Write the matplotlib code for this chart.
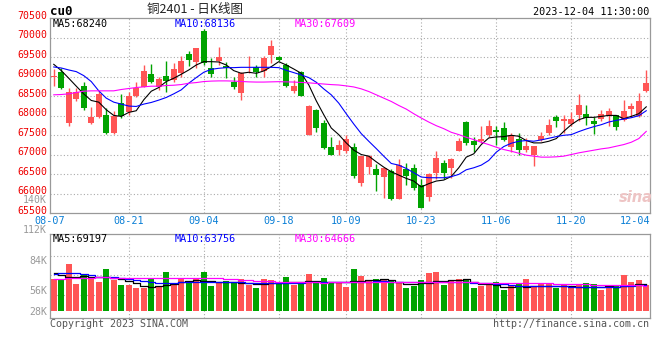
import numpy as np
import pandas as pd
import matplotlib
matplotlib.use("Agg")
import matplotlib.pyplot as plt
from matplotlib.transforms import offset_copy

# trading days on the chart (SHFE closed 09-29 .. 10-06)
holidays = pd.to_datetime(["2023-09-29", "2023-10-02", "2023-10-03",
                           "2023-10-04", "2023-10-05", "2023-10-06"])
dates = pd.bdate_range("2023-08-07", "2023-12-04")
dates = dates[~dates.isin(holidays)]
date_labels = list(dates.strftime("%m-%d"))
tick_dates = ["08-07", "08-21", "09-04", "09-18", "10-09", "10-23", "11-06", "11-20", "12-04"]

opens = [68990, 69133, 67807, 68419, 68776, 67807, 67960, 68028, 67552, 68325,
         68096, 68520, 68750, 69065, 68750, 69022, 68920, 69090, 69583, 69371,
         70170, 69235, 69413, 69286, 68878, 68597, 69120, 69243, 69150, 69558,
         69515, 69303, 68640, 69133, 67500, 68155, 67823, 67211, 67118, 67110,
         67211, 66284, 66685, 66625, 66430, 66582, 65860, 66625, 66667, 66216,
         65919, 66523, 66795, 66667, 67110, 67832, 67347, 67347, 67517, 67645,
         67687, 67194, 67415, 67135, 67007, 67390, 67560, 67960, 67857, 67798,
         68010, 68053, 67857, 67925, 67985, 68028, 67900, 68180, 68002, 68640]
closes = [69030, 68725, 68606, 68623, 68190, 67960, 68555, 67552, 68002, 67985,
          68512, 68708, 69150, 68878, 68946, 68903, 69200, 69405, 69430, 69745,
          69345, 69065, 69515, 69235, 68750, 69090, 69130, 69133, 69473, 69787,
          69430, 68776, 68776, 68495, 68240, 67688, 67177, 66990, 67262, 67415,
          66454, 66965, 66965, 66480, 66667, 65860, 66735, 66454, 66140, 65646,
          66497, 66922, 66540, 66905, 67347, 67305, 67262, 67415, 67747, 67585,
          67390, 67517, 67118, 67237, 67237, 67492, 67772, 67857, 67925, 67925,
          68283, 67943, 67798, 68053, 68112, 67705, 68112, 68240, 68385, 68852]
highs = [69200, 69218, 68708, 68725, 68878, 68215, 68640, 68198, 68112, 68563,
         68606, 68878, 69303, 69320, 69005, 69405, 69345, 69541, 69660, 69745,
         70220, 69490, 69762, 69388, 69005, 69133, 69540, 69303, 69541, 69940,
         69541, 69345, 68920, 69150, 68283, 68180, 67900, 67458, 67390, 67500,
         67305, 66965, 67007, 66752, 66667, 66625, 66905, 66795, 66770, 66370,
         66540, 67110, 66855, 66922, 67432, 67857, 67458, 67730, 67900, 67730,
         67840, 67560, 67560, 67432, 67237, 67585, 67925, 68028, 68028, 68087,
         68563, 68265, 67960, 68155, 68198, 68028, 68410, 68325, 68580, 69175]
lows = [68760, 68690, 67730, 68380, 68150, 67790, 67940, 67540, 67540, 67942,
        68010, 68470, 68750, 68835, 68665, 68606, 68878, 69005, 69286, 69218,
        69300, 69005, 69300, 68963, 68690, 68410, 69110, 69005, 69005, 69345,
        69400, 68750, 68580, 68495, 67500, 67585, 67160, 66990, 66990, 67050,
        66412, 66200, 66497, 66072, 65900, 65834, 65860, 66225, 66100, 65630,
        65817, 66370, 66370, 66412, 67092, 67262, 67067, 67305, 67450, 67245,
        67365, 67075, 67007, 67067, 66710, 67365, 67517, 67705, 67560, 67730,
        67875, 67772, 67534, 67857, 67730, 67645, 67875, 67968, 67960, 68606]

ma5 = [69320, 69160, 68963, 68760, 68560, 68393, 68350, 68155, 68010, 67985,
       68087, 68130, 68410, 68630, 68725, 68878, 68963, 69065, 69175, 69303,
       69388, 69388, 69380, 69303, 69158, 69090, 69116, 69090, 69150, 69260,
       69388, 69303, 69200, 69090, 68793, 68385, 68028, 67687, 67517, 67305,
       67120, 67007, 66965, 66820, 66684, 66565, 66480, 66395, 66327, 66175,
       66260, 66327, 66352, 66445, 66667, 66940, 67025, 67262, 67432, 67458,
       67466, 67500, 67475, 67365, 67305, 67305, 67347, 67415, 67602, 67772,
       67900, 67960, 67960, 67985, 68010, 68010, 67925, 67985, 68053, 68230]
ma10 = [69252, 69226, 69175, 69133, 69030, 68878, 68640, 68453, 68350, 68300,
        68250, 68240, 68300, 68342, 68402, 68470, 68563, 68665, 68835, 68980,
        69116, 69192, 69218, 69235, 69235, 69243, 69243, 69243, 69243, 69243,
        69235, 69167, 69107, 69048, 68980, 68861, 68690, 68538, 68325, 68053,
        67790, 67543, 67348, 67160, 66965, 66778, 66735, 66650, 66540, 66430,
        66412, 66412, 66412, 66440, 66497, 66616, 66667, 66735, 66855, 67067,
        67211, 67296, 67347, 67365, 67348, 67382, 67424, 67466, 67500, 67517,
        67594, 67662, 67721, 67772, 67840, 67883, 67917, 67951, 68002, 68130]
ma30 = [68538, 68546, 68563, 68597, 68631, 68640, 68640, 68640, 68640, 68674,
        68700, 68725, 68742, 68759, 68759, 68776, 68784, 68801, 68835, 68852,
        68878, 68890, 68895, 68895, 68890, 68880, 68870, 68865, 68865, 68870,
        68875, 68870, 68865, 68855, 68845, 68830, 68815, 68800, 68790, 68767,
        68740, 68691, 68623, 68538, 68453, 68368, 68265, 68172, 68053, 67943,
        67840, 67747, 67670, 67577, 67518, 67450, 67390, 67322, 67262, 67194,
        67135, 67092, 67041, 66990, 66965, 66940, 66940, 66948, 66965, 67007,
        67050, 67084, 67118, 67152, 67177, 67220, 67262, 67322, 67415, 67600]

# volume in K lots
volume = [66.5, 66.7, 80.5, 62.2, 71.3, 68.9, 64.3, 75.9, 65.8, 61.2,
          61.2, 58.8, 58.8, 67.4, 59.7, 73.2, 61.2, 66.5, 64.9, 67.4,
          73.2, 60.3, 64.3, 64.9, 64.3, 66.7, 61.2, 58.5, 66.7, 65.8,
          63.4, 68.6, 61.2, 62.8, 71.3, 63.7, 67.9, 64.3, 63.4, 59.7,
          75.9, 69.5, 65.8, 66.7, 65.8, 65.8, 64.3, 58.5, 60.3, 65.8,
          72.2, 73.2, 61.2, 64.9, 66.7, 66.7, 58.5, 60.3, 61.8, 63.7,
          56.6, 60.3, 62.2, 66.7, 60.3, 62.8, 62.2, 58.5, 62.2, 58.8,
          61.8, 63.4, 61.8, 56.6, 59.7, 60.3, 70.4, 64.3, 65.8, 61.2]
vol_ma5 = [72.5, 70.4, 68.6, 68.9, 69.5, 68.6, 68.3, 68.6, 67.4, 66.4,
           64.9, 62.8, 60.0, 59.7, 60.0, 61.5, 62.5, 64.0, 65.2, 65.8,
           65.2, 64.9, 64.3, 64.3, 63.7, 63.4, 63.1, 62.5, 62.2, 62.8,
           63.4, 64.3, 63.7, 64.3, 64.6, 64.6, 64.3, 64.3, 63.7, 64.0,
           64.6, 65.2, 65.8, 66.1, 66.7, 66.1, 63.7, 62.2, 61.8, 62.8,
           63.1, 64.6, 65.2, 65.5, 66.1, 66.4, 64.3, 62.5, 61.8, 61.2,
           59.7, 59.1, 60.3, 59.7, 60.0, 60.3, 60.6, 60.6, 60.6, 60.3,
           59.4, 59.1, 59.7, 59.7, 60.3, 59.7, 60.3, 60.9, 61.8, 62.5]
vol_ma10 = [71.6, 71.9, 72.5, 72.5, 71.3, 70.1, 68.9, 68.9, 68.3, 67.7,
            67.1, 66.1, 64.9, 63.7, 62.8, 62.8, 63.1, 63.7, 64.3, 64.3,
            64.3, 64.3, 64.3, 64.3, 64.0, 63.7, 63.4, 62.8, 62.8, 62.8,
            62.8, 63.4, 63.4, 63.4, 63.7, 63.7, 64.0, 63.7, 63.7, 63.7,
            64.0, 64.3, 64.3, 64.6, 64.9, 64.3, 63.7, 63.7, 63.7, 63.7,
            64.0, 64.3, 64.3, 64.3, 64.3, 64.3, 63.4, 62.8, 62.8, 62.2,
            61.8, 61.2, 60.6, 60.3, 60.3, 60.3, 60.3, 60.3, 60.3, 59.7,
            59.4, 59.7, 59.7, 59.7, 59.7, 59.7, 60.3, 60.3, 60.9, 61.5]
vol_ma30 = [66.7, 67.1, 67.4, 67.7, 68.0, 68.1, 68.3, 68.3, 68.0, 67.8,
            67.7, 67.4, 67.4, 67.4, 67.4, 67.4, 67.4, 67.4, 67.4, 67.4,
            67.4, 67.4, 67.4, 67.1, 66.6, 66.1, 65.5, 65.2, 64.9, 64.6,
            64.3, 64.3, 64.3, 64.3, 63.7, 63.7, 63.4, 63.7, 64.0, 64.2,
            64.3, 64.0, 63.7, 63.7, 63.7, 63.7, 63.7, 63.7, 63.7, 63.7,
            63.7, 63.7, 63.7, 63.7, 63.7, 63.7, 63.7, 63.5, 63.4, 63.4,
            63.4, 63.4, 63.1, 62.8, 62.8, 62.8, 62.8, 62.6, 62.5, 62.2,
            62.0, 61.8, 61.5, 61.2, 61.1, 60.9, 60.9, 60.9, 60.9, 60.6]

price_ticks = [65500, 66000, 66500, 67000, 67500, 68000, 68500, 69000, 69500, 70000, 70500]
vol_ticks = [140, 112, 84, 56]
vol_floor_label = "28K"

UP = "#ff5555"
DOWN = "#00a300"
GRID = "#aaaaaa"
FRAME = "#999999"
MONO = "DejaVu Sans Mono"
W, H = 660, 360

fig = plt.figure(figsize=(W / 100, H / 100), dpi=100)
fig.patch.set_facecolor("white")


def ftext(x, y, s, **kw):
    fig.text(x / W, 1 - y / H, s, **kw)


x = np.arange(len(dates))
o = np.array(opens)
c = np.array(closes)
colors = np.where(c >= o, UP, DOWN)
tick_pos = [date_labels.index(d) for d in tick_dates]

# ---- price panel
ax = fig.add_axes([50 / W, 1 - 213.3 / H, 600 / W, 195 / H])
ax.set_xlim(-0.5, len(x) - 0.5)
ax.set_ylim(price_ticks[0], price_ticks[-1])
ax.set_xticks([])
ax.set_yticks([])
for s in ax.spines.values():
    s.set_color(FRAME)
    s.set_linewidth(0.9)

for p in price_ticks[1:-1]:
    ax.axhline(p, color=GRID, lw=0.8, ls=(0, (1, 2)), zorder=0)
for t in tick_pos[1:-1]:
    ax.axvline(t, color=GRID, lw=0.8, ls=(0, (1, 2)), zorder=0)

ax.vlines(x, lows, highs, colors=colors, lw=1, zorder=2)
body = np.maximum(np.abs(c - o), 12)
ax.bar(x, body, bottom=np.minimum(o, c), width=0.8, color=colors, zorder=3)

ax.plot(x, ma5, color="black", lw=0.8, zorder=4)
ax.plot(x, ma10, color="#0000ff", lw=0.8, zorder=4)
ax.plot(x, ma30, color="#ff00ff", lw=0.8, zorder=4)

ylab_tr = offset_copy(ax.get_yaxis_transform(), fig=fig, x=-3, y=2.5, units="dots")
for p in price_ticks:
    ax.text(0, p, str(p), transform=ylab_tr, ha="right", va="center",
            color="#ee0000", fontsize=7.1, family=MONO, clip_on=False)

xlab_tr = offset_copy(ax.get_xaxis_transform(), fig=fig, x=0, y=-8, units="dots")
for lbl, t in zip(tick_dates, tick_pos):
    if t == 0:
        ax.text(-0.5, 0, lbl, transform=xlab_tr, ha="center", va="center",
                color="#0a7fd6", fontsize=7.3, family=MONO, clip_on=False)
    elif t == len(x) - 1:
        ax.text(len(x) - 0.5, 0, lbl, transform=xlab_tr, ha="right", va="center",
                color="#0a7fd6", fontsize=7.3, family=MONO, clip_on=False)
    else:
        ax.text(t, 0, lbl, transform=xlab_tr, ha="center", va="center",
                color="#0a7fd6", fontsize=7.3, family=MONO, clip_on=False)

ftext(53, 24, "MA5:68240", color="black", fontsize=7.3, family=MONO, va="center")
ftext(175, 24, "MA10:68136", color="#0000ff", fontsize=7.3, family=MONO, va="center")
ftext(295, 24, "MA30:67609", color="#ff00ff", fontsize=7.3, family=MONO, va="center")

ftext(636, 197, "sina", color="#eec4c4", fontsize=10.5, style="italic",
      weight="bold", ha="center", va="center")

# ---- volume panel
vol_lo, vol_hi, vol_base = 30.7, 107.8, 37.4
axv = fig.add_axes([50 / W, 1 - 318.3 / H, 600 / W, 84 / H])
axv.set_xlim(-0.5, len(x) - 0.5)
axv.set_ylim(vol_lo, vol_hi)
axv.set_xticks([])
axv.set_yticks([])
for s in axv.spines.values():
    s.set_color(FRAME)
    s.set_linewidth(0.9)
for f in [0.277, 0.515, 0.745]:
    axv.plot([0, 1], [f, f], transform=axv.transAxes, color=GRID, lw=0.8,
             ls=(0, (1, 2)), zorder=0)
for t in tick_pos[1:-1]:
    axv.axvline(t, color=GRID, lw=0.8, ls=(0, (1, 2)), zorder=0)

vol = np.array(volume)
axv.bar(x, vol - vol_base, bottom=vol_base, width=0.8, color=colors, zorder=2)
axv.step(x, vol_ma5, where="mid", color="black", lw=0.9, zorder=3)
axv.step(x, vol_ma10, where="mid", color="#0000ff", lw=0.9, zorder=3)
axv.step(x, vol_ma30, where="mid", color="#ff00ff", lw=0.9, zorder=3)

vlab_tr = offset_copy(axv.get_yaxis_transform(), fig=fig, x=-3, y=-0.5, units="dots")
for v in vol_ticks:
    axv.text(0, v, f"{v}K", transform=vlab_tr, ha="right", va="center",
             color="#999999", fontsize=7.1, family=MONO, clip_on=False)
axv.text(0, vol_base, vol_floor_label, transform=vlab_tr, ha="right", va="center",
         color="#999999", fontsize=7.1, family=MONO, clip_on=False)

ftext(53, 238.5, "MA5:69197", color="black", fontsize=7.3, family=MONO, va="center")
ftext(175, 238.5, "MA10:63756", color="#0000ff", fontsize=7.3, family=MONO, va="center")
ftext(295, 238.5, "MA30:64666", color="#ff00ff", fontsize=7.3, family=MONO, va="center")

# ---- header / footer
ftext(50, 11.5, "cu0", color="black", fontsize=9, family=MONO, weight="bold", va="center")
ftext(195, 10, "铜2401 - 日K线图", color="#222222", fontsize=9,
      family=["Noto Sans CJK SC", "DejaVu Sans"], ha="center", va="center")
ftext(649, 12, "2023-12-04 11:30:00", color="black", fontsize=7.3, family=MONO,
      ha="right", va="center")
ftext(50, 324, "Copyright 2023 SINA.COM", color="#555555", fontsize=7.2, family=MONO,
      va="center")
ftext(649, 324, "http://finance.sina.com.cn", color="#555555", fontsize=7.2, family=MONO,
      ha="right", va="center")

fig.savefig("out.png", dpi=100, facecolor="white")
